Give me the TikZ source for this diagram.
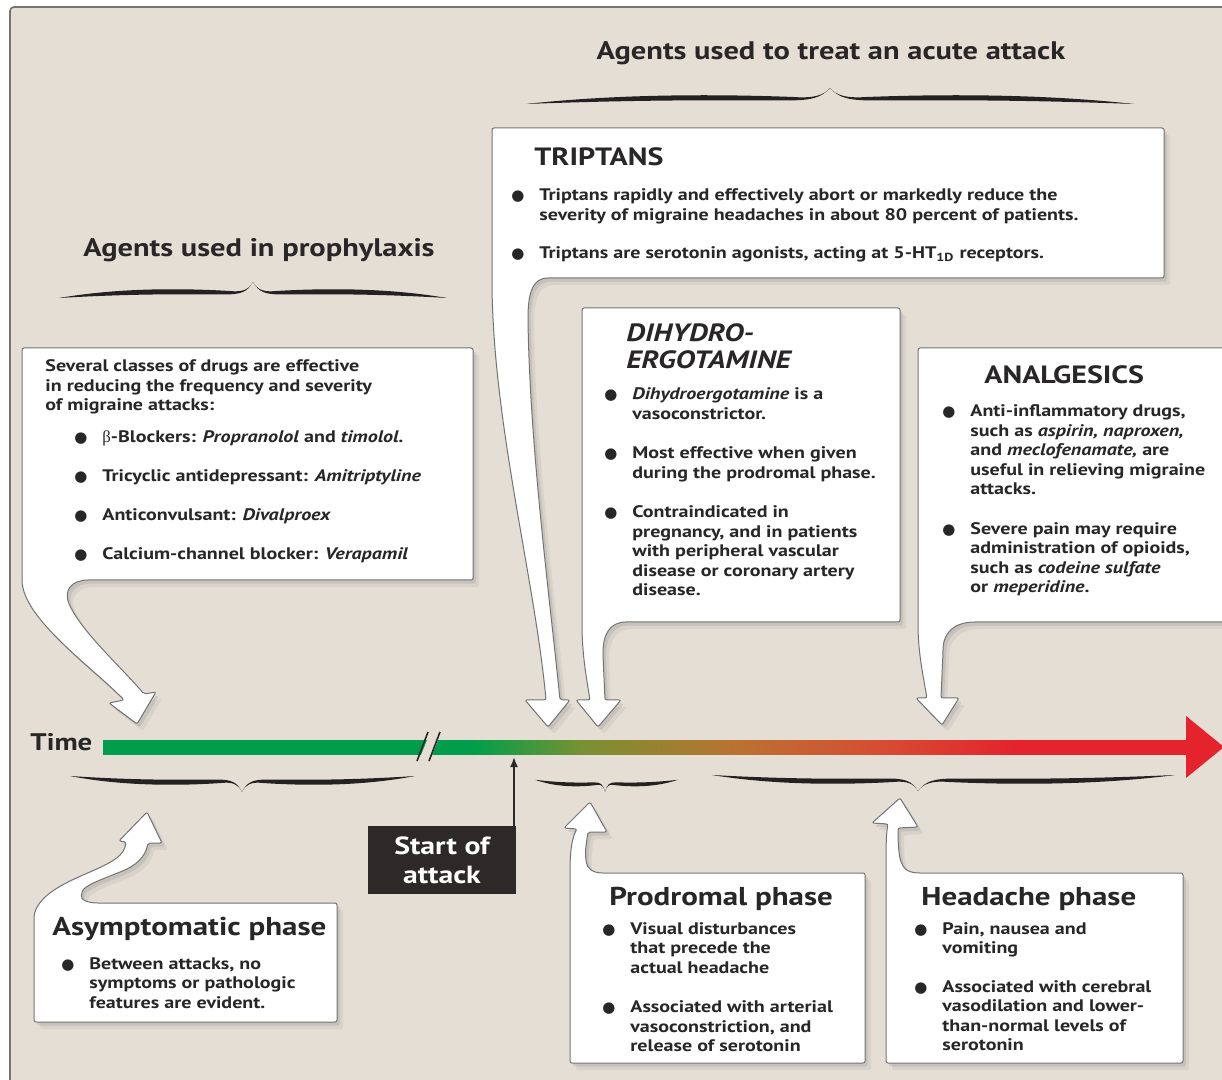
\documentclass[tikz,border=0pt]{standalone}
\usepackage{fontspec}
\setmainfont{PT Sans}[FakeStretch=1.2]
\newfontfamily\dotfont{DejaVu Sans}
\newfontfamily\grkfont{Liberation Serif}
\usetikzlibrary{arrows.meta,shadows}

\definecolor{bgbeige}{RGB}{229,222,213}
\definecolor{framegray}{RGB}{120,115,110}
\definecolor{inkgray}{RGB}{40,38,38}
\definecolor{braceink}{RGB}{35,33,33}
\definecolor{tgreen}{RGB}{0,158,76}
\definecolor{tolive}{RGB}{120,145,50}
\definecolor{tbrown}{RGB}{185,115,50}
\definecolor{torange}{RGB}{215,75,50}
\definecolor{tred}{RGB}{228,35,45}
\definecolor{startdark}{RGB}{45,41,41}

\pgfdeclarehorizontalshading{timeshade}{100bp}{color(0bp)=(tgreen); color(25bp)=(tgreen);
  color(42bp)=(tgreen); color(47bp)=(tolive); color(54bp)=(tbrown); color(61bp)=(torange);
  color(67bp)=(tred); color(75bp)=(tred); color(100bp)=(tred)}

\newcommand{\bodyfont}{\bfseries\fontsize{8.35}{9.75}\selectfont}
\newcommand{\bul}{{\dotfont\fontsize{7.5}{7.5}\selectfont ●}}
\newcommand{\bulcell}{\makebox[14pt][l]{\bul}}

\tikzset{
  callout/.style={draw=black!55, line width=0.5pt, fill=white, rounded corners=1pt,
    drop shadow={shadow xshift=3pt, shadow yshift=-3.5pt, opacity=0.12},
    drop shadow={shadow xshift=1.5pt, shadow yshift=-1.8pt, opacity=0.2}},
  bodytext/.style={font=\bodyfont, inner sep=0pt, anchor=base west, text=inkgray},
  boxtitle/.style={font=\bfseries\fontsize{12.5}{13.5}\selectfont, inner sep=0pt, anchor=base west, text=inkgray},
  phasetitle/.style={font=\bfseries\fontsize{12.9}{15}\selectfont, inner sep=0pt, anchor=base west, text=inkgray},
  headline/.style={font=\bfseries\fontsize{12.7}{14}\selectfont, inner sep=0pt, anchor=base, text=inkgray},
  startbox/.style={fill=startdark, text=white, font=\bfseries\fontsize{12.4}{14.5}\selectfont, align=center,
    minimum width=74pt, minimum height=34pt, inner sep=0pt},
  attackarrow/.style={-{Latex[length=5pt,width=4pt]}, line width=0.9pt, draw=startdark},
  pics/halfbrace/.style={code={
    \fill[braceink] (0,7) .. controls ({0.3*#1},-3) and ({0.62*#1},-3) .. ({0.88*#1},0)
      .. controls ({0.95*#1},1.5) and ({0.98*#1},-2) .. (#1,-9)
      .. controls ({0.97*#1},1) and ({0.94*#1},3.5) .. ({0.85*#1},3.5)
      .. controls ({0.6*#1},3) and ({0.35*#1},3) .. (0,7) -- cycle;}}
}

\begin{document}
\begin{tikzpicture}[x=0.5pt, y=-0.5pt]
  \useasboundingbox (0,0) rectangle (1222,1080);
  \fill[white] (0,0) rectangle (1222,1080);
  \path[draw=framegray, fill=bgbeige, line width=0.8pt, rounded corners=2pt] (10,7) rectangle (1240,1095);

  % headings and braces
  \node[headline] (acuteT) at (831,60) {Agents used to treat an acute attack};
  \node[headline] (prophT) at (259,257) {Agents used in prophylaxis};
  \pic at (526,97) {halfbrace=304};
  \pic[xscale=-1] at (1134,97) {halfbrace=304};
  \pic at (59,291) {halfbrace=194};
  \pic[xscale=-1] at (447,291) {halfbrace=194};
  \pic[yscale=-1] at (70,783) {halfbrace=172};
  \pic[xscale=-1, yscale=-1] at (415,783) {halfbrace=173};
  \pic[yscale=-0.75] at (535,785) {halfbrace=70};
  \pic[xscale=-1, yscale=-0.75] at (678,785) {halfbrace=73};
  \pic[yscale=-1] at (712,782) {halfbrace=206};
  \pic[xscale=-1, yscale=-1] at (1175,782) {halfbrace=257};

  % time line
  \node[font=\bfseries\fontsize{12}{14}\selectfont, anchor=base west, inner sep=0pt, text=inkgray] (timeL) at (30,750) {Time};
  \shade[shading=timeshade] (103,740) rectangle (1190,754);
  \fill[tred] (1186,716) -- (1224,747) -- (1186,778) -- cycle;
  \fill[bgbeige] (419,760) -- (430,733) -- (441,733) -- (430,760) -- cycle;
  \draw[inkgray, line width=0.8pt] (417,761) -- (428,732) (429,761) -- (440,732);

  \coordinate (tipPro) at (137,724);
  \coordinate (tipTrip) at (548,727);
  \coordinate (tipDhe) at (598,727);
  \coordinate (tipAna) at (942,725);
  \coordinate (tipAsym) at (147,812);
  \coordinate (tipProd) at (590,802);
  \coordinate (tipHead) at (900,798);
  \coordinate (attack) at (514,757);

  % callouts above the line
  \path[callout] (22,470) -- (22,348) -- (473,348) -- (473,580) -- (90,580)
    .. controls (72,580) and (63,590) .. (70,606) .. controls (85,635) and (122,668) .. (144,694)
    -- (156,692) -- (tipPro) -- (109,703) -- (124,700)
    .. controls (92,667) and (22,618) .. (22,578) -- cycle;
  \path[callout] (492,200) -- (492,128) -- (1164,128) -- (1164,278) -- (550,278)
    .. controls (533,278) and (528,292) .. (528,320) .. controls (530,450) and (550,600) .. (560,700)
    -- (570,700) -- (tipTrip) -- (525,700) -- (546,700)
    .. controls (535,580) and (492,420) .. (492,278) -- cycle;
  \path[callout] (582,400) -- (582,308) -- (900,308) -- (900,622) -- (628,622)
    .. controls (610,622) and (603,634) .. (603,655) -- (605,700)
    -- (621,700) -- (tipDhe) -- (576,700) -- (590,700)
    .. controls (585,670) and (582,650) .. (582,622) -- cycle;
  \path[callout] (918,450) -- (918,348) -- (1240,348) -- (1240,622) -- (977,622)
    .. controls (955,622) and (943,632) .. (943,652) -- (941,698)
    -- (959,698) -- (tipAna) -- (916,698) -- (927,698)
    .. controls (922,670) and (918,650) .. (918,622) -- cycle;

  % callouts below the line
  \path[callout] (34,960) -- (34,915) .. controls (40,895) and (62,884) .. (90,872)
    .. controls (115,861) and (124,855) .. (126,842)
    -- (119,841) -- (tipAsym) -- (162,843) -- (148,843)
    .. controls (145,858) and (135,866) .. (120,872) .. controls (100,880) and (84,886) .. (82,893)
    .. controls (80,900) and (88,903) .. (100,903) -- (337,903) -- (337,1022) -- (34,1022) -- cycle;
  \path[callout] (570,1000) -- (570,875) .. controls (570,850) and (572,838) .. (577,829)
    -- (564,828) -- (tipProd) -- (607,832) -- (588,832)
    .. controls (586,845) and (585,852) .. (586,860) .. controls (587,868) and (592,873) .. (605,873)
    -- (865,873) -- (865,1063) -- (570,1063) -- cycle;
  \path[callout] (886,1000) -- (886,875) .. controls (886,850) and (886,835) .. (888,824)
    -- (872,823) -- (tipHead) -- (918,827) -- (898,828)
    .. controls (898,845) and (899,857) .. (902,864) .. controls (905,870) and (910,873) .. (922,873)
    -- (1183,873) -- (1183,1063) -- (886,1063) -- cycle;

  % prophylaxis text
  \node[bodytext] (proIntro) at (45,372) {\begin{tabular}[t]{@{}l@{}}
    Several classes of drugs are effective\\
    in reducing the frequency and severity\\
    of migraine attacks:\end{tabular}};
  \node[bodytext] (proList) at (74,443) {\begin{tabular}[t]{@{}l@{}l@{}}
    \bulcell & {\grkfont\mdseries β}-Blockers: \textit{Propranolol} and \textit{timolol.}\\[9.75pt]
    \bulcell & Tricyclic antidepressant: \textit{Amitriptyline}\\[9.75pt]
    \bulcell & Anticonvulsant: \textit{Divalproex}\\[9.75pt]
    \bulcell & Calcium-channel blocker: \textit{Verapamil}\end{tabular}};

  % triptans
  \node[boxtitle] (tripT) at (534,166) {TRIPTANS};
  \node[bodytext] (tripL) at (511,201) {\begin{tabular}[t]{@{}l@{}l@{}}
    \bulcell & Triptans rapidly and effectively abort or markedly reduce the\\
             & severity of migraine headaches in about 80 percent of patients.\\[9.5pt]
    \bulcell & Triptans are serotonin agonists, acting at 5-HT\textsubscript{1D} receptors.\end{tabular}};

  % dihydroergotamine
  \node[boxtitle, font=\bfseries\itshape\fontsize{12.5}{13.5}\selectfont] (dheT) at (626,342)
    {\begin{tabular}[t]{@{}l@{}}DIHYDRO-\\ERGOTAMINE\end{tabular}};
  \node[bodytext] (dheL) at (604,400) {\begin{tabular}[t]{@{}l@{}l@{}}
    \bulcell & \textit{Dihydroergotamine} is a\\ & vasoconstrictor.\\[10pt]
    \bulcell & Most effective when given\\ & during the prodromal phase.\\[10pt]
    \bulcell & Contraindicated in\\ & pregnancy, and in patients\\ & with peripheral vascular\\
             & disease or coronary artery\\ & disease.\end{tabular}};

  % analgesics
  \node[boxtitle] (anaT) at (984,384) {ANALGESICS};
  \node[bodytext] (anaL) at (942,417) {\begin{tabular}[t]{@{}l@{}l@{}}
    \bulcell & Anti-inflammatory drugs,\\ & such as \textit{aspirin, naproxen,}\\
             & and \textit{meclofenamate,} are\\ & useful in relieving migraine\\ & attacks.\\[10pt]
    \bulcell & Severe pain may require\\ & administration of opioids,\\
             & such as \textit{codeine sulfate}\\ & or \textit{meperidine}.\end{tabular}};

  % phases
  \node[phasetitle] (asymT) at (52,935) {Asymptomatic phase};
  \node[bodytext] (asymL) at (61,969) {\begin{tabular}[t]{@{}l@{}l@{}}
    \bulcell & Between attacks, no\\ & symptoms or pathologic\\ & features are evident.\end{tabular}};
  \node[phasetitle] (prodT) at (609,905) {Prodromal phase};
  \node[bodytext] (prodL) at (602,934) {\begin{tabular}[t]{@{}l@{}l@{}}
    \bulcell & Visual disturbances\\ & that precede the\\ & actual headache\\[10pt]
    \bulcell & Associated with arterial\\ & vasoconstriction, and\\ & release of serotonin\end{tabular}};
  \node[phasetitle] (headT) at (921,905) {Headache phase};
  \node[bodytext] (headL) at (914,934) {\begin{tabular}[t]{@{}l@{}l@{}}
    \bulcell & Pain, nausea and\\ & vomiting\\[9.5pt]
    \bulcell & Associated with cerebral\\ & vasodilation and lower-\\
             & than-normal levels of\\ & serotonin\end{tabular}};

  % start of attack
  \node[startbox] (start) at (442,860) {Start of\\attack};
  \draw[attackarrow] (start.north east -| attack) -- (attack);
\end{tikzpicture}
\end{document}
